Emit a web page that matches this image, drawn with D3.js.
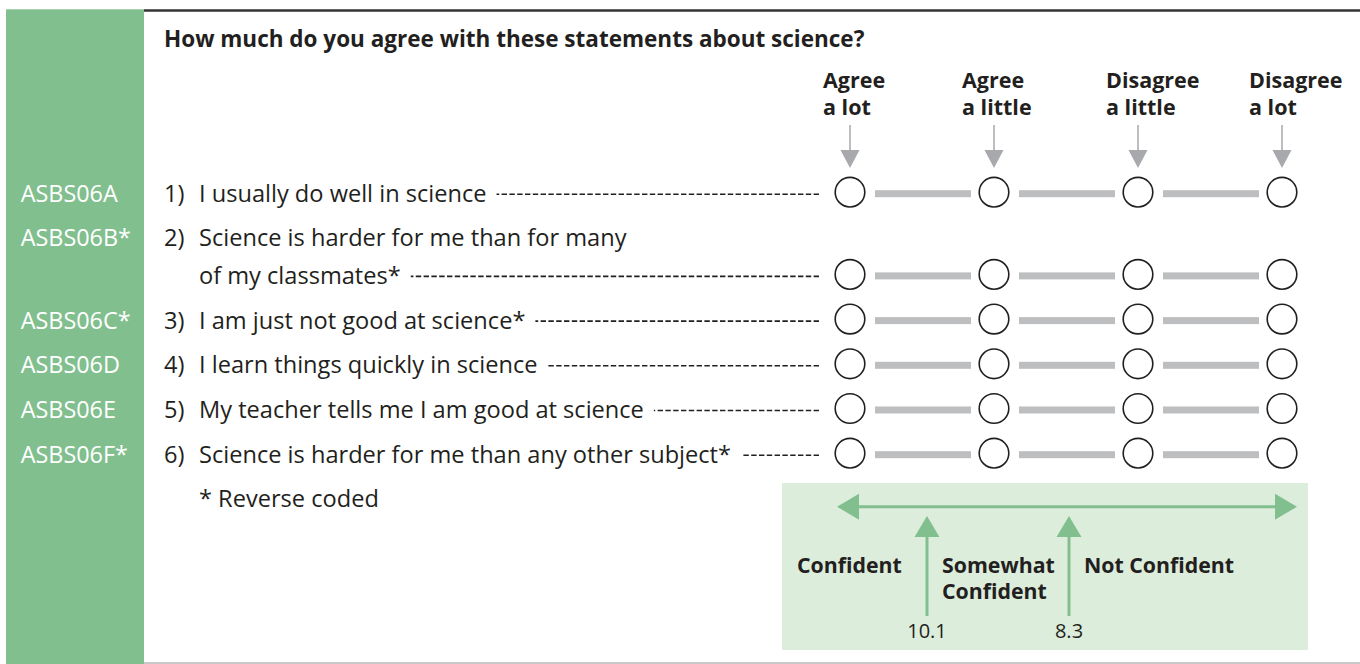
<!DOCTYPE html>
<html>
<head>
<meta charset="utf-8">
<script src="https://cdn.jsdelivr.net/npm/d3@7"></script>
<style>
  html, body { margin: 0; padding: 0; background: #fff; }
  svg { display: block; font-family: "Open Sans", sans-serif; }
</style>
</head>
<body>
<div id="wrapper"></div>
<script>
// data
const title = "How much do you agree with these statements about science?"
const responses = [["Agree", "a lot"], ["Agree", "a little"], ["Disagree", "a little"], ["Disagree", "a lot"]]
const variables = ["ASBS06A", "ASBS06B*", "ASBS06C*", "ASBS06D", "ASBS06E", "ASBS06F*"]
const statements = [
  ["I usually do well in science"],
  ["Science is harder for me than for many", "of my classmates*"],
  ["I am just not good at science*"],
  ["I learn things quickly in science"],
  ["My teacher tells me I am good at science"],
  ["Science is harder for me than any other subject*"],
]
const note = "* Reverse coded"
const cutScores = [10.1, 8.3]
const bands = [["Confident"], ["Somewhat", "Confident"], ["Not Confident"]]

function drawChart() {
  const width = 1360
  const height = 664
  const ink = "#231f20"
  const green = "#82bf8f"
  const lightGreen = "#ddeddb"
  const gray = "#bcbec0"
  const arrowGray = "#a7a9ac"
  const bodySize = "23.6px"

  const svg = d3.select("#wrapper")
    .append("svg")
      .attr("width", width)
      .attr("height", height)

  // frame
  svg.append("rect")
      .attr("x", 6).attr("y", 9.3)
      .attr("width", 138).attr("height", height - 9.3)
      .attr("fill", green)
  svg.append("line")
      .attr("x1", 144).attr("x2", width)
      .attr("y1", 10.5).attr("y2", 10.5)
      .attr("stroke", "#333").attr("stroke-width", 2.6)
  svg.append("line")
      .attr("x1", 144).attr("x2", width)
      .attr("y1", 663).attr("y2", 663)
      .attr("stroke", "#c8c8c8").attr("stroke-width", 2)

  svg.append("text")
      .attr("x", 164).attr("y", 47)
      .attr("fill", ink)
      .style("font-size", "22.5px").style("font-weight", 700)
      .text(title)

  // scales
  const xScale = d3.scalePoint()
    .domain(d3.range(responses.length))
    .range([850, 1282])

  // each row's first baseline: row pitch plus extra for wrapped lines
  const rowPitch = 44.7
  const wrapPitch = 37.5
  let extra = 0
  const rows = statements.map((lines, i) => {
    const y = 201.7 + i * rowPitch + extra * wrapPitch
    extra += lines.length - 1
    return { i, lines, variable: variables[i], y, lastY: y + (lines.length - 1) * wrapPitch }
  })
  const noteY = 201.7 + statements.length * rowPitch + extra * wrapPitch

  // header labels and arrows
  const headDx = [-27, -32, -32, -33]
  const head = svg.append("g")
  responses.forEach((lab, k) => {
    const cx = xScale(k)
    const t = head.append("text")
        .attr("fill", ink)
        .style("font-size", "21.5px").style("font-weight", 700)
    lab.forEach((l, j) => {
      t.append("tspan").attr("x", cx + headDx[k]).attr("y", 88 + j * 27).text(l)
    })
    head.append("line")
        .attr("x1", cx).attr("x2", cx)
        .attr("y1", 125).attr("y2", 152)
        .attr("stroke", arrowGray).attr("stroke-width", 1.5)
    head.append("path")
        .attr("d", `M${cx - 9.5},150 L${cx + 9.5},150 L${cx},168 Z`)
        .attr("fill", arrowGray)
  })

  // rows
  const rowG = svg.selectAll(".row")
      .data(rows)
    .enter()
      .append("g")
        .attr("class", "row")

  rowG.append("text")
      .attr("x", 20.7).attr("y", d => d.y)
      .attr("fill", "#fff")
      .style("font-size", "23.4px")
      .text(d => d.variable)

  rowG.append("text")
      .attr("x", 164).attr("y", d => d.y)
      .attr("fill", ink)
      .style("font-size", bodySize)
      .text(d => (d.i + 1) + ")")

  rowG.each(function(d) {
    const g = d3.select(this)
    let lastEnd = 0
    d.lines.forEach((l, j) => {
      const t = g.append("text")
          .attr("x", 199).attr("y", d.y + j * wrapPitch)
          .attr("fill", ink)
          .style("font-size", bodySize)
          .text(l)
      lastEnd = 199 + t.node().getComputedTextLength()
    })
    const cy = d.lastY - 9.5
    // dashed leader, drawn right to left so the pattern ends cleanly
    g.append("line")
        .attr("x1", 819).attr("x2", lastEnd + 10)
        .attr("y1", cy + 2).attr("y2", cy + 2)
        .attr("stroke", ink).attr("stroke-width", 1.6)
        .attr("stroke-dasharray", "5.4,2.4")
    // bars between circles
    g.selectAll(".bar")
        .data(d3.range(responses.length - 1))
      .enter()
        .append("rect")
          .attr("x", k => xScale(k) + 25)
          .attr("width", k => xScale(k + 1) - xScale(k) - 48)
          .attr("y", cy - 2)
          .attr("height", 7)
          .attr("fill", gray)
    g.selectAll("circle")
        .data(d3.range(responses.length))
      .enter()
        .append("circle")
          .attr("cx", k => xScale(k))
          .attr("cy", cy)
          .attr("r", 14.8)
          .attr("fill", "#fff")
          .attr("stroke", ink)
          .attr("stroke-width", 1.6)
  })

  svg.append("text")
      .attr("x", 199).attr("y", noteY)
      .attr("fill", ink)
      .style("font-size", bodySize)
      .text(note)

  // confidence box
  const box = { x: 782, y: 483, w: 526, h: 167 }
  const scoreScale = d3.scaleLinear()
    .domain(cutScores)
    .range([927, 1069])

  const conf = svg.append("g")
  conf.append("rect")
      .attr("x", box.x).attr("y", box.y)
      .attr("width", box.w).attr("height", box.h)
      .attr("fill", lightGreen)

  const ay = 506.7
  const leftTip = box.x + 55
  const rightTip = box.x + box.w - 11
  conf.append("line")
      .attr("x1", leftTip + 20).attr("x2", rightTip - 20)
      .attr("y1", ay).attr("y2", ay)
      .attr("stroke", green).attr("stroke-width", 3)
  conf.append("path")
      .attr("d", `M${leftTip},${ay} L${leftTip + 22},${ay - 13} L${leftTip + 22},${ay + 13} Z`)
      .attr("fill", green)
  conf.append("path")
      .attr("d", `M${rightTip},${ay} L${rightTip - 22},${ay - 13} L${rightTip - 22},${ay + 13} Z`)
      .attr("fill", green)

  cutScores.forEach(s => {
    const x = scoreScale(s)
    conf.append("line")
        .attr("x1", x).attr("x2", x)
        .attr("y1", 535).attr("y2", 616)
        .attr("stroke", green).attr("stroke-width", 3)
    conf.append("path")
        .attr("d", `M${x},516 L${x + 12.5},537 L${x - 12.5},537 Z`)
        .attr("fill", green)
    conf.append("text")
        .attr("x", x).attr("y", 638.3)
        .attr("fill", ink)
        .style("font-size", "20px")
        .style("text-anchor", "middle")
        .text(s)
  })

  const bandX = [box.x + 15].concat(cutScores.map(s => scoreScale(s) + 15))
  bands.forEach((b, k) => {
    const t = conf.append("text")
        .attr("fill", ink)
        .style("font-size", "21.3px").style("font-weight", 700)
    b.forEach((l, j) => {
      t.append("tspan").attr("x", bandX[k]).attr("y", 572.7 + j * 26.6).text(l)
    })
  })
}

drawChart()
</script>
</body>
</html>
